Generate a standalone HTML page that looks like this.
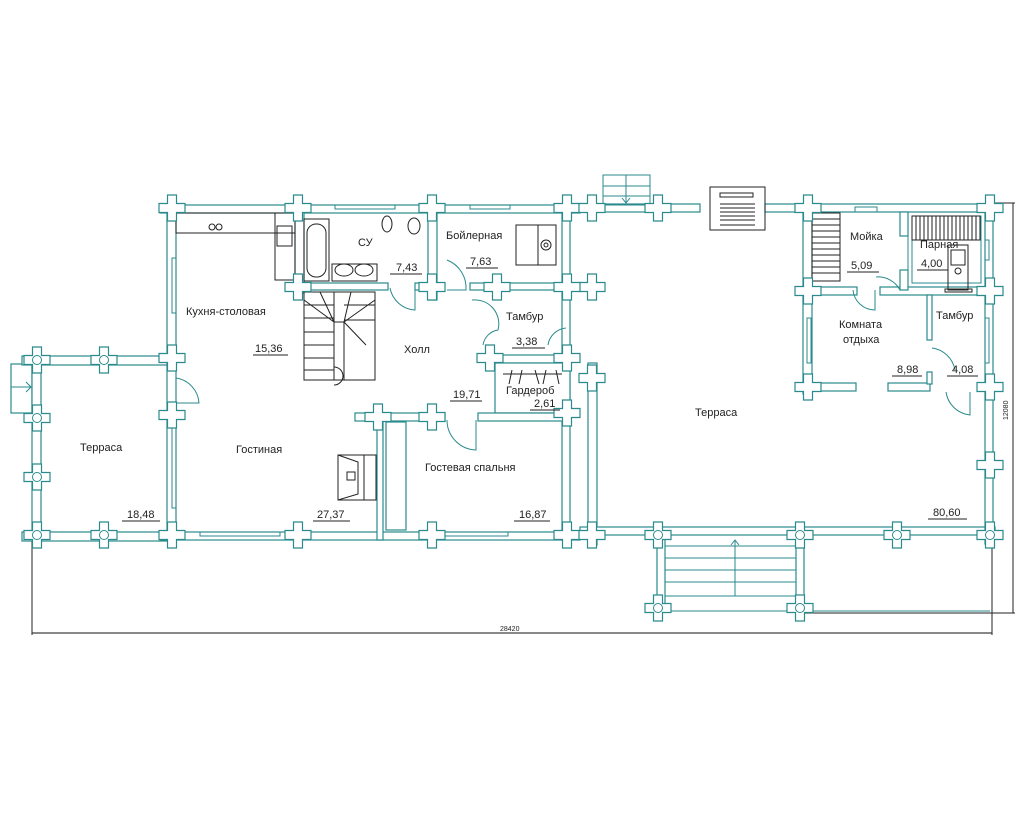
<!DOCTYPE html>
<html><head><meta charset="utf-8"><style>
html,body{margin:0;padding:0;background:#fff;width:1024px;height:819px;overflow:hidden}
svg{display:block}
text{font-family:"Liberation Sans",sans-serif;font-size:11px;fill:#222}
.w{fill:#fff;stroke:#2a8a8c;stroke-width:1.2}
.l{fill:none;stroke:#2a8a8c;stroke-width:1}
.k{fill:none;stroke:#222;stroke-width:1}
.u{stroke:#222;stroke-width:1}
</style></head><body>
<svg width="1024" height="819" viewBox="0 0 1024 819" xmlns="http://www.w3.org/2000/svg">
<defs>
<path id="c" class="w" d="M-4.5,-13H4.5V-4.5H13V4.5H4.5V13H-4.5V4.5H-13V-4.5H-4.5Z"/>
<g id="co"><use href="#c"/><circle r="4.5" class="l"/></g>
</defs>

<!-- dimension lines -->
<line x1="32" y1="633" x2="992" y2="633" stroke="#888" stroke-width="2"/>
<line x1="32" y1="540" x2="32" y2="635" stroke="#222" stroke-width="1"/>
<line x1="992" y1="540" x2="992" y2="635" stroke="#222" stroke-width="1"/>
<line x1="1013" y1="203" x2="1013" y2="613" stroke="#222" stroke-width="1"/>
<line x1="805" y1="613" x2="1015" y2="613" stroke="#222" stroke-width="1"/>
<line x1="995" y1="203" x2="1015" y2="203" stroke="#222" stroke-width="1"/>
<text x="500" y="631" style="font-size:7px">28420</text>
<text x="1008" y="420" style="font-size:7px" transform="rotate(-90 1008 420)">12080</text>

<!-- left terrace -->
<rect class="w" x="11" y="364" width="21" height="49"/>
<line class="l" x1="11" y1="387" x2="32" y2="387"/>
<polyline class="l" points="26,382 31,387 26,392"/>
<rect class="w" x="22" y="356" width="150" height="9"/>
<rect class="w" x="32" y="356" width="9" height="184"/>
<rect class="w" x="22" y="532" width="150" height="9"/>

<!-- main building walls -->
<rect class="w" x="160" y="205" width="420" height="8"/>
<rect class="w" x="167" y="205" width="9" height="335"/>
<rect class="w" x="160" y="532" width="420" height="8"/>
<rect class="w" x="562" y="205" width="8" height="335"/>
<rect class="l" x="172" y="258" width="4" height="55"/>
<rect class="l" x="172" y="428" width="4" height="80"/>
<rect class="l" x="200" y="532" width="80" height="4"/>
<rect class="l" x="438" y="532" width="70" height="4"/>
<rect class="l" x="335" y="205" width="60" height="4"/>
<rect class="l" x="470" y="205" width="40" height="4"/>

<!-- interior walls -->
<rect class="w" x="295" y="205" width="9" height="88"/>
<rect class="w" x="288" y="283" width="100" height="7"/>
<rect class="w" x="428" y="205" width="9" height="95"/>
<rect class="w" x="415" y="283" width="22" height="7"/>
<rect class="w" x="470" y="283" width="100" height="7"/>
<rect class="w" x="487" y="355" width="83" height="8"/>
<rect class="w" x="495" y="363" width="75" height="50"/>
<rect class="w" x="355" y="413" width="90" height="8"/>
<rect class="w" x="478" y="413" width="92" height="8"/>
<rect class="w" x="377" y="413" width="6" height="127"/>
<rect class="w" x="386" y="422" width="20" height="108"/>
<line class="k" x1="503" y1="374" x2="562" y2="374"/>
<path class="k" d="M512,370 l-3,14 M522,370 l-3,14 M535,370 l4,14 M546,370 l-3,14 M556,370 l3,14"/>

<!-- doors -->
<path class="l" d="M176,378 A27,27 0 0 1 199,403 L176,403"/>
<path class="l" d="M390,288 A27,27 0 0 0 415,310 L415,288"/>
<path class="l" d="M447,260 A30,30 0 0 1 466,290 L447,290"/>
<path class="l" d="M472,300 A24,24 0 0 1 498,330 A18,18 0 0 0 483,345"/>
<path class="l" d="M566,328 A20,20 0 0 0 548,345"/>
<path class="l" d="M447,420 A30,30 0 0 0 476,450 L476,420"/>

<!-- kitchen -->
<rect class="k" x="176" y="213" width="119" height="20"/>
<circle class="k" cx="212" cy="227" r="3"/><circle class="k" cx="219" cy="227" r="3"/>
<rect class="k" x="275" y="213" width="20" height="67"/>
<rect class="k" x="277" y="226" width="15" height="20"/>
<!-- CY -->
<rect class="k" x="304" y="219" width="25" height="62"/>
<rect class="k" x="307" y="224" width="19" height="53" rx="9"/>
<rect class="k" x="332" y="264" width="45" height="17"/>
<ellipse class="k" cx="344" cy="270" rx="9" ry="6"/><ellipse class="k" cx="364" cy="270" rx="9" ry="6"/>
<ellipse class="k" cx="387" cy="224" rx="5" ry="8"/>
<ellipse class="k" cx="414" cy="226" rx="6" ry="8"/>
<!-- stairs -->
<rect class="k" x="304" y="292" width="71" height="88"/>
<rect class="k" x="334" y="322" width="10" height="58"/>
<path class="k" d="M304,305H334M304,318H334M304,332H334M304,345H334M304,358H334M304,370H334M344,305H375M344,320H375M320,292L334,322M334,292V322M351,292L344,322M375,300L344,322M304,300L334,322M344,322L366,345"/>
<path class="k" d="M334,367 a9,9 0 0 1 0,18"/>
<!-- boiler -->
<rect class="k" x="516" y="225" width="40" height="40"/>
<rect class="k" x="516" y="225" width="22" height="40"/>
<circle class="k" cx="546" cy="245" r="5"/><circle class="k" cx="546" cy="245" r="2"/>
<!-- fireplace -->
<rect class="k" x="338" y="455" width="38" height="45"/>
<line class="k" x1="364" y1="455" x2="364" y2="500"/>
<path class="k" d="M338,455 L358,462 L358,494 L338,500"/>
<rect class="k" x="347" y="472" width="8" height="8"/>

<!-- big terrace -->
<rect class="w" x="580" y="204" width="120" height="8"/>
<rect class="w" x="765" y="204" width="45" height="8"/>
<rect class="w" x="588" y="363" width="9" height="182"/>
<rect class="w" x="580" y="527" width="415" height="8"/>
<rect class="w" x="985" y="204" width="8" height="340"/>
<rect class="l" x="603" y="175" width="47" height="30"/>
<path class="l" d="M603,186H650M603,196H650M626,175V205M622,198l4,5 4,-5"/>
<rect class="k" x="710" y="187" width="55" height="43"/>
<rect class="k" x="720" y="193" width="33" height="4"/>
<path class="k" d="M720,204H755M720,208H755M720,212H755M720,216H755M720,220H755M720,225H755"/>
<!-- bottom stairs -->
<rect class="w" x="657" y="535" width="8" height="73"/>
<rect class="w" x="796" y="535" width="8" height="73"/>
<path class="l" d="M665,546H796M665,558H796M665,570H796M665,582H796M665,596H796M735,596V540M731,545l4,-5 4,5"/>
<line class="l" x1="665" y1="611" x2="990" y2="611"/>

<!-- sauna block -->
<rect class="w" x="803" y="204" width="190" height="8"/>
<rect class="w" x="803" y="204" width="9" height="190"/>
<rect class="w" x="803" y="287" width="54" height="8"/>
<rect class="w" x="880" y="287" width="110" height="8"/>
<rect class="w" x="803" y="383" width="53" height="8"/>
<rect class="w" x="888" y="383" width="42" height="8"/>
<rect class="w" x="900" y="212" width="8" height="24"/>
<rect class="w" x="900" y="270" width="8" height="20"/>
<rect class="l" x="908" y="212" width="77" height="75"/>
<rect class="l" x="912" y="216" width="69" height="67"/>
<rect class="w" x="927" y="295" width="5" height="45"/>
<rect class="w" x="927" y="372" width="5" height="12"/>
<rect class="k" x="812" y="213" width="28" height="68"/>
<path class="k" d="M812,219H840M812,225H840M812,231H840M812,237H840M812,243H840M812,249H840M812,255H840M812,261H840M812,267H840M812,273H840"/>
<rect class="k" x="912" y="216" width="68" height="24"/>
<path class="k" d="M916,216V240M920,216V240M924,216V240M928,216V240M932,216V240M936,216V240M940,216V240M944,216V240M948,216V240M952,216V240M956,216V240M960,216V240M964,216V240M968,216V240M972,216V240M976,216V240"/>
<rect class="k" x="948" y="245" width="20" height="45" fill="#fff"/>
<rect class="k" x="951" y="250" width="14" height="15"/>
<circle class="k" cx="958" cy="271" r="3"/>
<rect class="k" x="945" y="289" width="27" height="3"/>
<rect class="l" x="855" y="207" width="22" height="5"/>
<rect class="l" x="985" y="240" width="4" height="20"/>
<rect class="l" x="807" y="318" width="4" height="45"/>
<rect class="l" x="985" y="318" width="4" height="45"/>
<path class="l" d="M876,277 A25,25 0 0 1 900,290 M853,290 A22,22 0 0 0 875,310 L875,290"/>
<path class="l" d="M932,348 A27,27 0 0 1 955,370"/>
<path class="l" d="M946,392 A27,27 0 0 0 970,415 L970,392"/>

<!-- crosses -->
<use href="#c" x="172" y="208"/><use href="#c" x="298" y="208"/><use href="#c" x="432" y="208"/><use href="#c" x="567" y="208"/>
<use href="#c" x="592" y="208"/><use href="#c" x="658" y="208"/><use href="#c" x="592" y="287"/>
<use href="#c" x="172" y="358"/><use href="#c" x="172" y="415"/><use href="#c" x="172" y="535"/>
<use href="#c" x="298" y="535"/><use href="#c" x="432" y="535"/><use href="#c" x="567" y="535"/><use href="#c" x="592" y="535"/>
<use href="#c" x="298" y="287"/><use href="#c" x="432" y="287"/><use href="#c" x="497" y="287"/><use href="#c" x="567" y="287"/>
<use href="#c" x="490" y="358"/><use href="#c" x="567" y="358"/><use href="#c" x="567" y="413"/>
<use href="#c" x="378" y="417"/><use href="#c" x="432" y="417"/><use href="#c" x="592" y="378"/>
<use href="#c" x="808" y="208"/><use href="#c" x="990" y="208"/><use href="#c" x="808" y="291"/><use href="#c" x="990" y="291"/>
<use href="#c" x="808" y="387"/><use href="#c" x="990" y="387"/><use href="#c" x="990" y="465"/>
<use href="#co" x="37" y="360"/><use href="#co" x="104" y="360"/><use href="#co" x="37" y="418"/><use href="#co" x="37" y="477"/>
<use href="#co" x="37" y="535"/><use href="#co" x="104" y="535"/>
<use href="#co" x="658" y="535"/><use href="#co" x="658" y="608"/><use href="#co" x="800" y="535"/><use href="#co" x="800" y="608"/>
<use href="#co" x="897" y="535"/><use href="#co" x="990" y="535"/>

<!-- labels -->
<text x="186" y="315">Кухня-столовая</text>
<text x="255" y="352">15,36</text><line class="u" x1="253" y1="355" x2="288" y2="355"/>
<text x="358" y="246">СУ</text>
<text x="396" y="271">7,43</text><line class="u" x1="390" y1="274" x2="422" y2="274"/>
<text x="446" y="239">Бойлерная</text>
<text x="470" y="265">7,63</text><line class="u" x1="466" y1="268" x2="498" y2="268"/>
<text x="506" y="320">Тамбур</text>
<text x="516" y="345">3,38</text><line class="u" x1="512" y1="348" x2="545" y2="348"/>
<text x="404" y="353">Холл</text>
<text x="453" y="398">19,71</text><line class="u" x1="450" y1="401" x2="482" y2="401"/>
<text x="506" y="394">Гардероб</text>
<text x="534" y="407">2,61</text><line class="u" x1="530" y1="410" x2="560" y2="410"/>
<text x="80" y="451">Терраса</text>
<text x="127" y="518">18,48</text><line class="u" x1="122" y1="521" x2="160" y2="521"/>
<text x="236" y="453">Гостиная</text>
<text x="317" y="518">27,37</text><line class="u" x1="313" y1="521" x2="350" y2="521"/>
<text x="425" y="471">Гостевая спальня</text>
<text x="519" y="518">16,87</text><line class="u" x1="514" y1="521" x2="550" y2="521"/>
<text x="695" y="416">Терраса</text>
<text x="933" y="516">80,60</text><line class="u" x1="928" y1="519" x2="967" y2="519"/>
<text x="850" y="240">Мойка</text>
<text x="851" y="269">5,09</text><line class="u" x1="847" y1="272" x2="879" y2="272"/>
<text x="920" y="248">Парная</text>
<text x="921" y="267">4,00</text><line class="u" x1="917" y1="270" x2="948" y2="270"/>
<text x="839" y="328">Комната</text>
<text x="843" y="343">отдыха</text>
<text x="936" y="319">Тамбур</text>
<text x="897" y="373">8,98</text><line class="u" x1="892" y1="376" x2="922" y2="376"/>
<text x="952" y="373">4,08</text><line class="u" x1="947" y1="376" x2="978" y2="376"/>
</svg>
</body></html>
